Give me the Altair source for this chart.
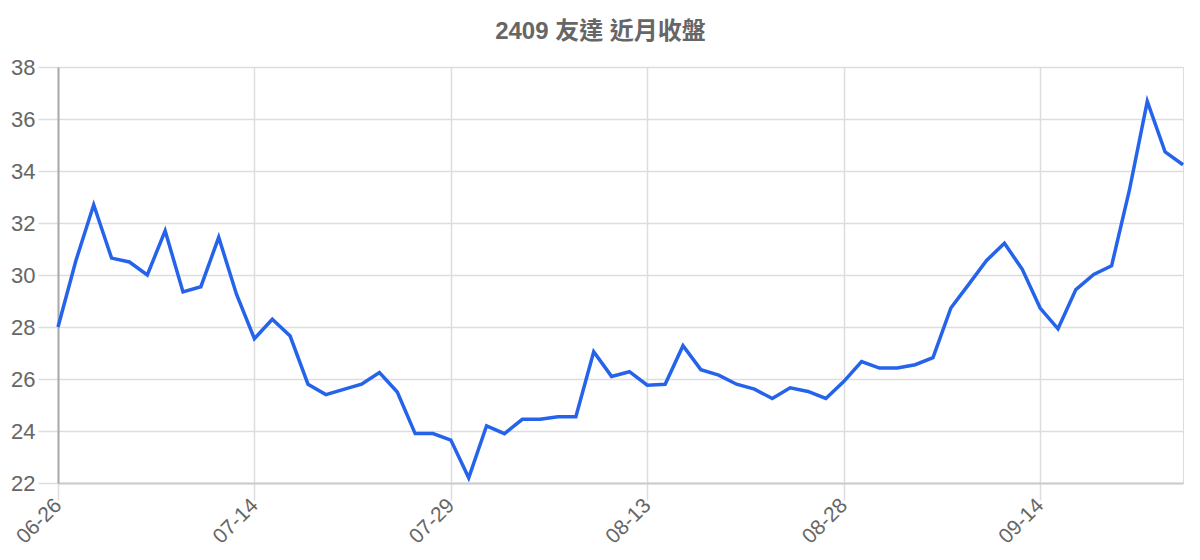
import altair as alt
import pandas as pd

title_text = "2409 友達 近月收盤"
tick_idx = [0, 11, 22, 33, 44, 55]
tick_labels = ["06-26", "07-14", "07-29", "08-13", "08-28", "09-14"]
close = [
    28.0, 30.55, 32.7, 30.65, 30.5, 30.0, 31.7, 29.35, 29.55, 31.45,
    29.25, 27.55, 28.3, 27.65, 25.8, 25.4, 25.6, 25.8, 26.25, 25.5,
    23.9, 23.9, 23.65, 22.2, 24.2, 23.9, 24.45, 24.45, 24.55, 24.55,
    27.05, 26.1, 26.28, 25.76, 25.8, 27.28, 26.36, 26.15, 25.8, 25.61,
    25.25, 25.66, 25.52, 25.25, 25.9, 26.67, 26.42, 26.42, 26.55, 26.82,
    28.73, 29.64, 30.56, 31.22, 30.22, 28.73, 27.93, 29.44, 30.02, 30.35,
    33.27, 36.68, 34.73, 34.24,
]

df = pd.DataFrame({"i": list(range(len(close))), "v": close})

label_map = "{" + ",".join(f"'{k}':'{v}'" for k, v in zip(tick_idx, tick_labels)) + "}"

FONT = "Liberation Sans, Noto Sans CJK TC"

chart = (
    alt.Chart(df)
    .mark_line(color="#2563eb", strokeWidth=3.5, strokeJoin="miter")
    .encode(
        x=alt.X(
            "i:Q",
            scale=alt.Scale(domain=[0, len(close) - 1], nice=False, zero=False),
            axis=alt.Axis(
                title=None,
                values=tick_idx,
                labelExpr=f"{label_map}[datum.value]",
                labelAngle=-45,
                labelAlign="right",
                labelBaseline="middle",
                labelFontSize=21,
                labelColor="#666666",
                labelFont=FONT,
                labelPadding=2,
                tickSize=17,
                tickColor="#dddddd",
                tickWidth=1.5,
                grid=True,
                gridColor="#dddddd",
                gridWidth=1.5,
                domainColor="#cccccc",
                domainWidth=2,
                labelOverlap=False,
                labelFlush=False,
            ),
        ),
        y=alt.Y(
            "v:Q",
            scale=alt.Scale(domain=[22, 38], nice=False, zero=False),
            axis=alt.Axis(
                title=None,
                values=[22, 24, 26, 28, 30, 32, 34, 36, 38],
                labelFontSize=22,
                labelColor="#666666",
                labelFont=FONT,
                labelPadding=3,
                tickSize=20,
                tickColor="#dddddd",
                tickWidth=1.5,
                grid=True,
                gridColor="#dddddd",
                gridWidth=1.5,
                domainColor="#aaaaaa",
                domainWidth=2,
            ),
        ),
    )
    .properties(
        width=1125,
        height=416,
        title=alt.TitleParams(
            text=title_text,
            font=FONT,
            fontSize=24,
            fontWeight="bold",
            color="#666666",
            anchor="middle",
            dx=-20,
            offset=12,
        ),
        autosize=alt.AutoSizeParams(type="none"),
        padding={"left": 50, "top": 59, "right": 9, "bottom": 77},
    )
    .configure_view(stroke=None)
    .configure(background="white")
)

chart.save("out.html", embed_options={"renderer": "svg", "actions": False})
